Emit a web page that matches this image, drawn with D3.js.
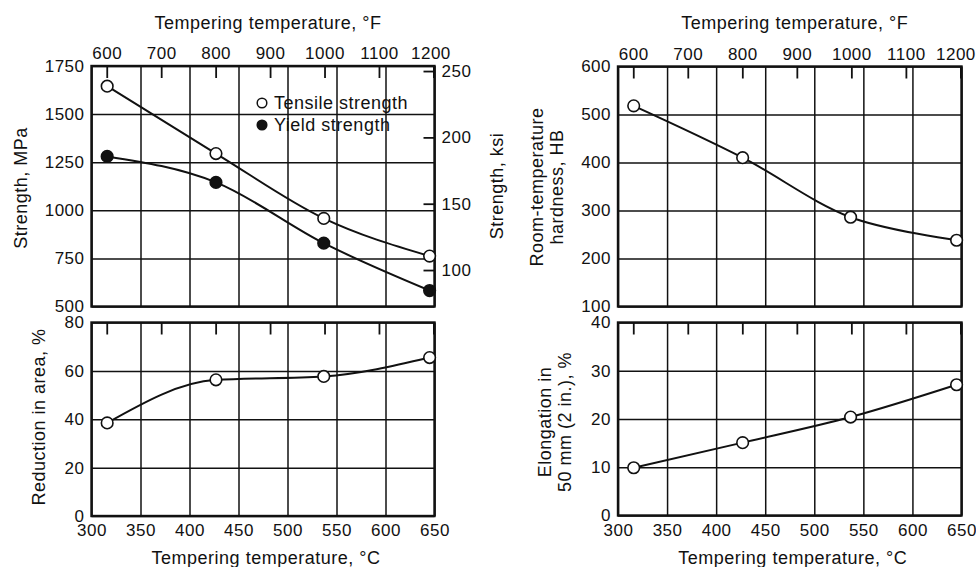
<!DOCTYPE html>
<html><head><meta charset="utf-8">
<script src="https://cdn.jsdelivr.net/npm/d3@7"></script>
<style>
body{margin:0;background:#fff}
svg{display:block}
text{font-family:"Liberation Sans",Arial,Helvetica,sans-serif;fill:#111;letter-spacing:0.5px}
</style>
</head><body>
<svg id="c" width="976" height="567"></svg>
<script>
// ---- data ----
const tempC = [316, 427, 537, 645];
const tensileMPa = [1645, 1295, 958, 762];
const yieldMPa = [1280, 1145, 829, 583];
const reductionArea = [38.5, 56.3, 57.7, 65.5];
const hardnessHB = [518, 410, 286, 238];
const elongation = [9.9, 15.1, 20.4, 27.1];
// ---- ticks ----
const cTicks = [300, 350, 400, 450, 500, 550, 600, 650];
const fTicks = [600, 700, 800, 900, 1000, 1100, 1200];
const mpaTicks = [500, 750, 1000, 1250, 1500, 1750];
const ksiTicks = [100, 150, 200, 250];
const raTicks = [0, 20, 40, 60, 80];
const hbTicks = [100, 200, 300, 400, 500, 600];
const elTicks = [0, 10, 20, 30, 40];
const legendLabels = ["Tensile strength", "Yield strength"];
const fTitle = "Tempering temperature, °F";
const cTitle = "Tempering temperature, °C";

const svg = d3.select("#c");
const FS = 18;      // titles
const TFS = 17;     // tick labels
const toF = c => c * 9 / 5 + 32;
const MPA_PER_KSI = 6.895;

function styleAxis(g) {
  g.attr("font-size", TFS).attr("font-family", null);
  g.select(".domain").remove();
  g.selectAll("line").attr("stroke", "#111");
  g.selectAll("text").attr("fill", "#111");
  return g;
}

function panel(o) {
  const g = svg.append("g");
  const x = d3.scaleLinear().domain([300, 650]).range([o.x0, o.x1]);
  const xF = d3.scaleLinear().domain([toF(300), toF(650)]).range([o.x0, o.x1]);
  const y = d3.scaleLinear().domain(o.yDomain).range([o.y1, o.y0]);
  const w = o.x1 - o.x0, h = o.y1 - o.y0;

  // vertical grid
  g.append("g").attr("transform", `translate(0,${o.y1})`)
    .call(d3.axisBottom(x).tickValues(cTicks).tickSize(-h).tickFormat(""))
    .call(styleAxis).selectAll("line").attr("stroke-width", 1.5);
  // horizontal grid
  g.append("g").attr("transform", `translate(${o.x0},0)`)
    .call(d3.axisLeft(y).tickValues(o.yTicks).tickSize(-w).tickFormat(""))
    .call(styleAxis).selectAll("line").attr("stroke-width", 1.5);
  // left labels
  g.append("g").attr("transform", `translate(${o.x0},0)`)
    .call(d3.axisLeft(y).tickValues(o.yTicks).tickSize(0).tickPadding(7).tickFormat(d3.format("d")))
    .call(styleAxis);
  // F ticks (inward from top)
  g.append("g").attr("transform", `translate(0,${o.y0})`)
    .call(d3.axisTop(xF).tickValues(fTicks).tickSize(-12).tickFormat(""))
    .call(styleAxis).selectAll("line").attr("stroke-width", 1.8);
  if (o.fLabels) {
    const fa = g.append("g").attr("transform", `translate(0,${o.y0})`)
      .call(d3.axisTop(xF).tickValues(fTicks).tickSize(0).tickPadding(7).tickFormat(d3.format("d")))
      .call(styleAxis);
    if (o.lastShift) fa.selectAll("text").filter(d => d === 1200).attr("dx", o.lastShift);
    g.append("text").attr("x", (o.x0 + o.x1) / 2 + 5).attr("y", 29)
      .attr("text-anchor", "middle").attr("font-size", FS).text(fTitle);
  }
  if (o.cLabels) {
    g.append("g").attr("transform", `translate(0,${o.y1 + 1})`)
      .call(d3.axisBottom(x).tickValues(cTicks).tickSize(0).tickPadding(7).tickFormat(d3.format("d")))
      .call(styleAxis);
    g.append("text").attr("x", (o.x0 + o.x1) / 2 + 3).attr("y", 564)
      .attr("text-anchor", "middle").attr("font-size", FS).text(cTitle);
  }
  if (o.ksi) {
    const yK = d3.scaleLinear().domain(o.yDomain.map(v => v / MPA_PER_KSI)).range([o.y1, o.y0]);
    g.append("g").attr("transform", `translate(${o.x1},0)`)
      .call(d3.axisRight(yK).tickValues(ksiTicks).tickSize(-11).tickPadding(7).tickFormat(d3.format("d")))
      .call(styleAxis).selectAll("line").attr("stroke-width", 1.8);
  }
  // y titles
  o.yTitle.forEach((t, i) => {
    g.append("text").attr("transform", `translate(${o.yTitleX[i]},${o.yTitleY}) rotate(-90)`)
      .attr("text-anchor", "middle").attr("dominant-baseline", "central")
      .attr("font-size", FS).text(t);
  });
  // frame
  g.append("rect").attr("x", o.x0).attr("y", o.y0).attr("width", w).attr("height", h)
    .attr("fill", "none").attr("stroke", "#111").attr("stroke-width", 2.4);

  // series
  o.series.forEach(s => {
    const line = d3.line().x(d => x(d[0])).y(d => y(d[1])).curve(s.curve || d3.curveMonotoneX);
    const pts = tempC.map((c, i) => [c, s.vals[i]]);
    g.append("path").attr("d", line(pts)).attr("fill", "none")
      .attr("stroke", "#111").attr("stroke-width", 2);
  });
  o.series.forEach(s => {
    const pts = tempC.map((c, i) => [c, s.vals[i]]);
    g.selectAll(null).data(pts).join("circle")
      .attr("cx", d => x(d[0])).attr("cy", d => y(d[1])).attr("r", 5.8)
      .attr("fill", s.filled ? "#111" : "#fff").attr("stroke", "#111").attr("stroke-width", 1.6);
  });
  return g;
}

// left top
const lt = panel({
  x0: 91.5, x1: 434.5, y0: 66, y1: 306.5,
  yDomain: [500, 1750], yTicks: mpaTicks,
  series: [{vals: tensileMPa, filled: false}, {vals: yieldMPa, filled: true}],
  fLabels: true, ksi: true, lastShift: -3,
  yTitle: ["Strength, MPa"], yTitleX: [21], yTitleY: 188
});
// legend
legendLabels.forEach((t, i) => {
  const ly = 103 + i * 22;
  lt.append("circle").attr("cx", 262).attr("cy", ly).attr("r", 4.8)
    .attr("fill", i === 0 ? "#fff" : "#111").attr("stroke", "#111").attr("stroke-width", 1.5);
  lt.append("text").attr("x", 274).attr("y", ly).attr("dominant-baseline", "central")
    .attr("font-size", FS).text(t);
});
// ksi title
svg.append("text").attr("transform", "translate(497,186) rotate(-90)")
  .attr("text-anchor", "middle").attr("dominant-baseline", "central")
  .attr("font-size", FS).text("Strength, ksi");

// left bottom
panel({
  x0: 91.5, x1: 434.5, y0: 322.5, y1: 516,
  yDomain: [0, 80], yTicks: raTicks,
  series: [{vals: reductionArea, filled: false}],
  cLabels: true,
  yTitle: ["Reduction in area, %"], yTitleX: [39], yTitleY: 417
});
// right top
panel({
  x0: 618, x1: 961.5, y0: 66.5, y1: 306.5,
  yDomain: [100, 600], yTicks: hbTicks,
  series: [{vals: hardnessHB, filled: false, curve: d3.curveCatmullRom}],
  fLabels: true, lastShift: -5,
  yTitle: ["Room-temperature", "hardness, HB"], yTitleX: [537, 557], yTitleY: 187
});
// right bottom
panel({
  x0: 618, x1: 961.5, y0: 322.5, y1: 515.5,
  yDomain: [0, 40], yTicks: elTicks,
  series: [{vals: elongation, filled: false}],
  cLabels: true,
  yTitle: ["Elongation in", "50 mm (2 in.), %"], yTitleX: [545, 565], yTitleY: 422
});
</script>
</body></html>
